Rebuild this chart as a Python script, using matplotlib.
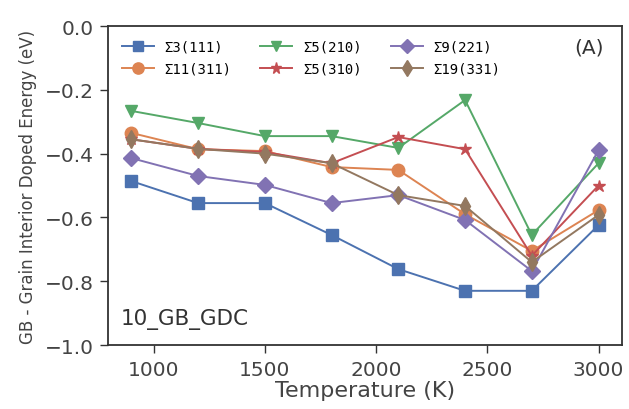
import matplotlib
matplotlib.use("Agg")
import matplotlib.pyplot as plt

# Temperatures (K)
temps = [900, 1200, 1500, 1800, 2100, 2400, 2700, 3000]

# Segregation energies (eV) per grain boundary
s3_111 = [-0.486, -0.555, -0.555, -0.655, -0.762, -0.830, -0.830, -0.624]
s11_311 = [-0.335, -0.386, -0.392, -0.442, -0.451, -0.590, -0.705, -0.577]
s5_210 = [-0.266, -0.304, -0.345, -0.345, -0.382, -0.232, -0.655, -0.430]
s5_310 = [-0.355, -0.385, -0.395, -0.430, -0.348, -0.386, -0.720, -0.500]
s9_221 = [-0.414, -0.470, -0.498, -0.555, -0.530, -0.608, -0.768, -0.389]
s19_331 = [-0.355, -0.385, -0.400, -0.430, -0.530, -0.564, -0.740, -0.592]

labels = ["Σ3(111)", "Σ11(311)", "Σ5(210)", "Σ5(310)", "Σ9(221)", "Σ19(331)"]
series = [s3_111, s11_311, s5_210, s5_310, s9_221, s19_331]
markers = ["s", "o", "v", "*", "D", "d"]
colors = ["#4C72B0", "#DD8452", "#55A868", "#C44E52", "#8172B3", "#937860"]
sizes = [8, 9, 8, 9, 8, 9]

fig = plt.figure(figsize=(6.29, 4.10), dpi=100)
ax = fig.add_axes([0.1717, 0.156, 0.817, 0.778])

for y, lab, m, c, s in zip(series, labels, markers, colors, sizes):
    ax.plot(temps, y, marker=m, color=c, label=lab, markersize=s, linewidth=1.4)

ax.set_ylim(-1.0, 0.0)
ax.set_xticks([1000, 1500, 2000, 2500, 3000])
ax.set_yticks([0.0, -0.2, -0.4, -0.6, -0.8, -1.0])
ax.tick_params(labelsize=14.5, direction="out", length=6, width=1.0, pad=4.5,
               colors="#333333", labelcolor="#444444")
for sp in ax.spines.values():
    sp.set_linewidth(1.3)
    sp.set_color("#333333")

ax.set_xlabel("Temperature (K)", fontsize=16, color="#444444", labelpad=1)
ax.set_ylabel("GB - Grain Interior Doped Energy (eV)", fontsize=12, color="#444444", labelpad=5)

# legend: two rows of three, filled column by column
ax.legend(ncol=3, loc="upper left", frameon=False,
          prop={"family": "DejaVu Sans Mono", "size": 10},
          handlelength=2.3, handletextpad=0.75, columnspacing=2.1,
          labelspacing=0.55, borderaxespad=0.6, markerscale=0.9)

ax.text(0.965, 0.965, "(A)", transform=ax.transAxes, ha="right", va="top",
        fontsize=14.5, color="#333333")
ax.text(0.025, 0.05, "10_GB_GDC", transform=ax.transAxes, ha="left", va="bottom",
        fontsize=15.5, color="#333333")

fig.savefig("out.png", dpi=100)
